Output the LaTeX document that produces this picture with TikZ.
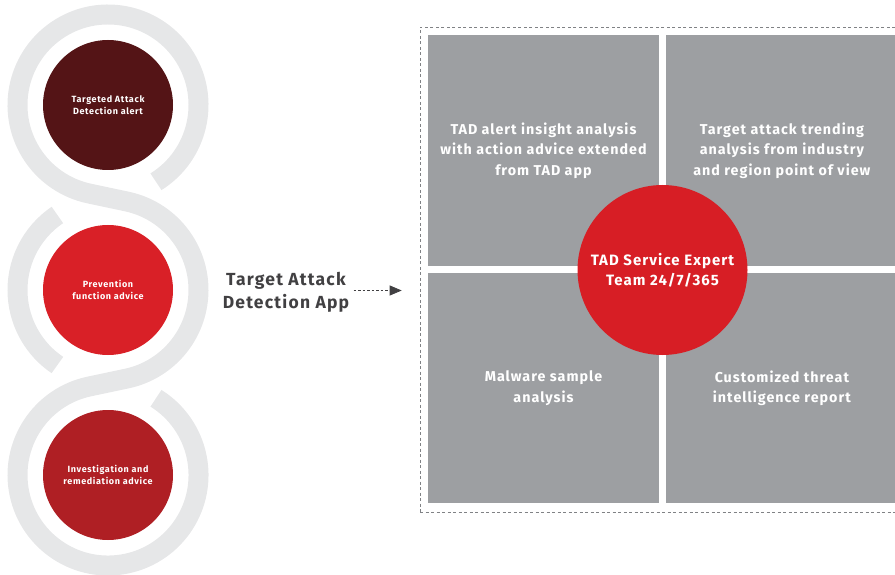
\documentclass[tikz,border=0pt]{standalone}
\usepackage{fontspec}
\setmainfont{Fira Sans}[LetterSpace=7]
\usetikzlibrary{arrows.meta,positioning}

\definecolor{ringgray}{HTML}{E6E7E8}
\definecolor{quadgray}{HTML}{9D9FA2}
\definecolor{bordergray}{HTML}{808285}
\definecolor{labelgray}{HTML}{414042}
\definecolor{maroon}{HTML}{541416}
\definecolor{brightred}{HTML}{D92027}
\definecolor{midred}{HTML}{AF1F24}
\definecolor{corered}{HTML}{D71E25}

\tikzset{
  ring/.style={draw=ringgray, line width=20pt},
  bubble/.style={circle, minimum size=130pt, inner sep=0pt, text=white, align=center,
    font=\bfseries\fontsize{9}{12}\selectfont},
  quad/.style={fill=quadgray, minimum width=231pt, minimum height=231pt, inner sep=0pt,
    text=white, align=center, font=\bfseries\fontsize{14.3}{20.5}\selectfont},
}

\begin{document}
\begin{tikzpicture}[x=1pt,y=1pt]
\clip (0,0) rectangle (895,-575);

% chain of rings on the left
\draw[ring] (108,-105) ++(-58:90.5) arc[start angle=-58, end angle=258, radius=90.5]
  -- (126.8,-201.5) arc[start angle=78, end angle=-78, radius=90.5]
  -- (89.2,-386.5) arc[start angle=102, end angle=418, radius=90.5];
\draw[ring] (108,-290) ++(124:90.5) arc[start angle=124, end angle=236, radius=90.5];

\node[bubble, fill=maroon] (alert) at (108,-105) {Targeted Attack\\Detection alert};
\node[bubble, fill=brightred] (prevent) at (108,-290) {Prevention\\function advice};
\node[bubble, fill=midred] (remedy) at (108,-475) {Investigation and\\remediation advice};

% service panel
\node[draw=bordergray, line width=0.6pt, dash pattern=on 3pt off 2.5pt,
  minimum width=490pt, minimum height=485pt, inner sep=0pt] (panel) at (665,-269.5) {};
\node[quad] (insight) at (543.5,-150.5) {TAD alert insight analysis\\with action advice extended\\from TAD app};
\node[quad, right=7pt of insight] (trend) {Target attack trending\\analysis from industry\\and region point of view};
\node[quad, below=7pt of insight, minimum height=230pt] (malware) {Malware sample\\analysis};
\node[quad, right=7pt of malware, minimum height=230pt] (report) {Customized threat\\intelligence report};
\node[circle, fill=corered, minimum size=170pt, inner sep=0pt, text=white, align=center,
  font=\bfseries\fontsize{15}{20}\selectfont] (expert) at (662.5,-270) {TAD Service Expert\\Team 24/7/365};

% app label and arrow
\node[text=labelgray, align=center, font=\bfseries\fontsize{17.5}{23}\selectfont] (app) at (286,-292.5) {Target Attack\\Detection App};
\draw[labelgray, line width=0.8pt, dash pattern=on 2.5pt off 2pt, -{Triangle[length=12pt,width=10pt]},
  shorten <=1pt, shorten >=18pt] ([yshift=2pt]app.east) -- ([yshift=2pt]app.east -| panel.west);
\end{tikzpicture}
\end{document}
